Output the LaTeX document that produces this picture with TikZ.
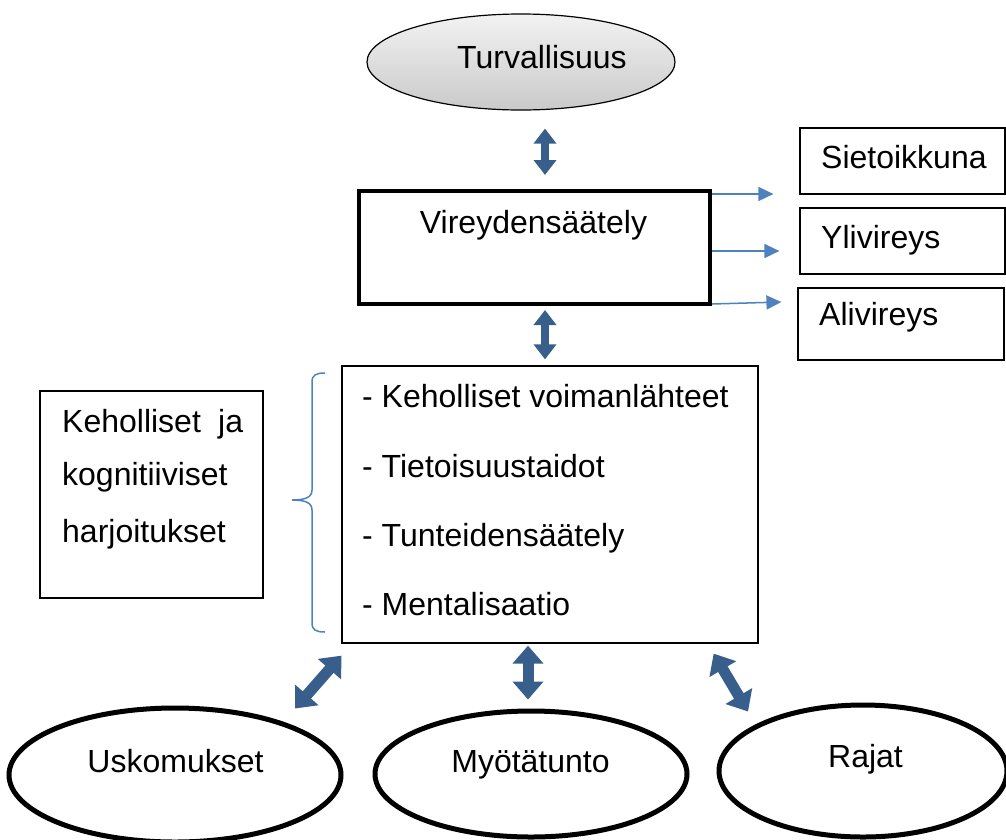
\documentclass[tikz,border=0pt]{standalone}
\usepackage{fontspec}
\setmainfont{Liberation Sans}
\usetikzlibrary{shapes.geometric,arrows.meta,calc}
\definecolor{arrdark}{RGB}{56,94,140}
\definecolor{linkblue}{RGB}{79,129,189}
\begin{document}
\begin{tikzpicture}[x=1pt,y=-1pt,
  every node/.style={font=\fontsize{32}{38}\selectfont, inner sep=0pt},
  txt/.style={anchor=base west},
  ctxt/.style={anchor=base},
  box/.style={draw, rectangle, line width=1.2pt},
  oval/.style={draw, ellipse, line width=5pt},
  blockarr/.style={draw=arrdark, line width=8pt,
    {Triangle[width=22pt,length=15pt]}-{Triangle[width=22pt,length=15pt]}},
  bigarr/.style={draw=arrdark, line width=11pt,
    {Triangle[width=30pt,length=18pt]}-{Triangle[width=30pt,length=18pt]}},
  thinarr/.style={draw=linkblue, line width=1.5pt,
    -{Triangle[width=14pt,length=15pt]}}
]
\useasboundingbox (0,0) rectangle (1006,839);

% top: safety
\node[ellipse, draw, line width=1.2pt, minimum width=308pt, minimum height=96pt,
  top color=gray!10, bottom color=gray!42] (turv) at (521,62) {};
\node[ctxt] (turvt) at (542,68) {Turvallisuus};

% arousal regulation and its three states
\node[draw, rectangle, line width=4pt, minimum width=351pt, minimum height=113pt] (vire) at (534.5,247.5) {};
\node[ctxt] (viret) at (533.5,233) {Vireydensäätely};

\node[box, minimum width=205pt, minimum height=66pt] (siet) at (902.5,161) {};
\node[txt] at (821,168) {Sietoikkuna};
\node[box, minimum width=205pt, minimum height=66pt] (yli) at (902.5,241) {};
\node[txt] at (821,248) {Ylivireys};
\node[box, minimum width=206pt, minimum height=72pt] (ali) at (901,324) {};
\node[txt] at (819,325) {Alivireys};

\draw[thinarr] ($(vire.north east)+(0,5)$) -- ($(siet.west)+(-26,33)$);
\draw[thinarr] ($(vire.east)+(0,3.5)$) -- ($(yli.west)+(-20,10)$);
\draw[thinarr] ($(vire.south east)+(0,-2)$) -- ($(ali.west)+(-16,-22)$);

% skills list
\node[box, line width=1.3pt, minimum width=416pt, minimum height=277pt] (lista) at (550,504.5) {};
\node[txt] (l1) at (362,407) {- Keholliset voimanlähteet};
\node[txt] (l2) at (362,477) {- Tietoisuustaidot};
\node[txt] (l3) at (362,546) {- Tunteidensäätely};
\node[txt] (l4) at (362,615) {- Mentalisaatio};

% exercises box with brace
\node[box, minimum width=223pt, minimum height=207pt] (harj) at (151.5,494.5) {};
\node[txt] (h1) at (62,432) {\hbox to 181pt{Keholliset\hfill ja}};
\node[txt] (h2) at (62,485) {kognitiiviset};
\node[txt] (h3) at (62,542) {harjoitukset};

\draw[linkblue, line width=1.5pt]
  (325,373) .. controls (316,373) and (312,375) .. (312,382) -- (312,490)
  .. controls (312,497) and (306,500) .. (292,500)
  .. controls (306,500) and (312,503) .. (312,510) -- (312,623)
  .. controls (312,630) and (316,632) .. (325,632);

% bottom ovals
\node[oval, minimum width=332pt, minimum height=134pt] (usk) at (175,775) {};
\node[ctxt] at (175.5,772) {Uskomukset};
\node[oval, minimum width=312pt, minimum height=126pt] (myo) at (531,774) {};
\node[ctxt] at (530.5,772) {Myötätunto};
\node[oval, minimum width=288pt, minimum height=132pt] (raj) at (863,771) {};
\node[ctxt] at (865.5,767) {Rajat};

% block double arrows
\draw[blockarr] ($(turv.south)+(24,18)$) -- ($(vire.north)+(10.5,-14)$);
\draw[blockarr] ($(vire.south)+(10.5,4)$) -- ($(lista.north)+(-5,-6)$);
\draw[bigarr] ($(lista.south)+(-22,2)$) -- ($(myo.north)+(-3,-9)$);
\draw[bigarr] ($(lista.south west)+(0,12)$) -- ($(usk.north)+(120,3)$);
\draw[bigarr] ($(lista.south east)+(-45,10)$) -- ($(raj.north)+(-115,9)$);
\end{tikzpicture}
\end{document}
